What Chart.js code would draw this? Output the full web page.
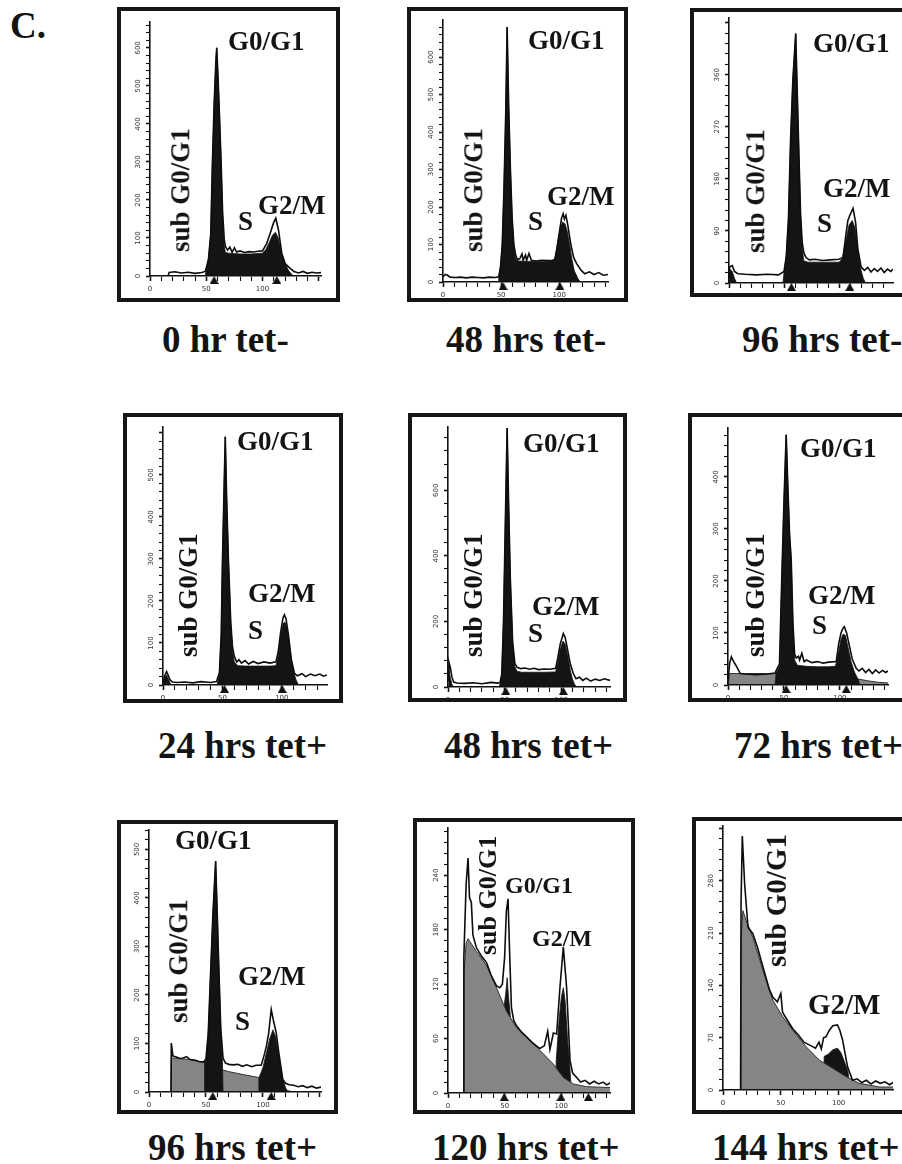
<!DOCTYPE html>
<html>
<head>
<meta charset="utf-8">
<script src="https://cdn.jsdelivr.net/npm/chart.js@4.4.0/dist/chart.umd.min.js"></script>
<style>
html, body { margin: 0; padding: 0; background: #fff; }
body { width: 902px; height: 1164px; position: relative; overflow: hidden; font-family: "Liberation Serif", "Times New Roman", serif; }
.box { position: absolute; border: 4px solid #161616; box-sizing: border-box; background: #fff; }
.box canvas { position: absolute; left: 0; top: 0; }
.lbl, .vert, .cap { position: absolute; font-weight: bold; color: #141414; white-space: nowrap; line-height: 1; }
.vert { left: 0; top: 0; transform-origin: 0 0; }
.cap { font-size: 37px; }
</style>
</head>
<body>
<div class="cap" style="left:10px;top:7px">C.</div>
<script>
// histogram values: [channel, count]
const p1Line = [[16,0],[17,9],[22,11],[28,8],[34,10],[40,7],[46,9],[49,12],[50,20],[52,45],[54,110],[55.5,300],[57,450],[58.5,560],[59.3,600],[60.5,520],[62,400],[63.2,300],[64.5,170],[66,95],[67,78],[69,68],[71,76],[73,62],[75,74],[77,63],[80,66],[84,62],[88,64],[92,63],[96,65],[100,66],[103.8,86],[106.8,112],[109.7,139],[111.8,152],[114.2,121],[117.1,60],[120.1,33],[124.6,20],[128,12],[132,8],[136,12],[140,7],[144,10],[148,8],[152,9]];
const p1Fit = [[49,0],[50,15],[52,45],[54,110],[55.5,300],[57,450],[58.5,560],[59.3,600],[60.5,520],[62,400],[63.2,300],[64.5,160],[66,80],[67,62],[70,60],[80,58],[90,58],[100,60],[103,70],[106,88],[109,108],[111.5,115],[114,100],[117,60],[120,35],[123,15],[126,4],[128,0]];
const p1Marks = [57, 112.7];

const p2Line = [[0,14],[2,20],[4,18],[6,13],[10,12],[15,13],[20,11],[25,13],[30,12],[35,11],[40,13],[45,12],[48,14],[49.5,40],[51,100],[52.5,250],[54,450],[55.2,680],[56.5,470],[58,300],[59.5,170],[61,100],[62.5,72],[64,60],[66,62],[68,75],[69,58],[71,72],[72,58],[74,76],[76,58],[80,56],[85,58],[90,57],[94,58],[96.3,60],[98,90],[100,130],[102,170],[103.4,182],[104.5,168],[105.8,178],[107.5,150],[110,100],[112.5,65],[115,49],[119,31],[122,22],[126,27],[130,20],[134,25],[138,18],[142,20]];
const p2Fit = [[47.5,0],[48,12],[49.5,40],[51,100],[52.5,250],[54,450],[55.2,680],[56.5,470],[58,300],[59.5,170],[61,95],[62.5,62],[65,56],[75,55],[85,55],[95,56],[97,70],[99,110],[101,145],[103,160],[105,155],[107,135],[109,100],[111,60],[113,30],[116,10],[118,0]];
const p2Marks = [51.7, 100.6];

const p3Line = [[0,10],[0.5,28],[3,30],[5,20],[8,16],[15,15],[25,14],[35,15],[45,14],[50,20],[52,45],[54,110],[56,250],[58,350],[60.6,431],[62,330],[63.6,216],[65,120],[66.5,70],[68,52],[70,44],[73,40],[78,41],[85,39],[92,40],[100,41],[103.6,44],[106,80],[108,108],[110,118],[112.7,129],[115,105],[117,60],[120,28],[123,22],[126,27],[129,19],[132,25],[135,20],[138,26],[141,18],[144,24],[147,20],[149,24]];
const p3Fit = [[0,0],[0.5,24],[3,20],[5,8],[7,0],[49,0],[50,18],[52,45],[54,110],[56,250],[58,350],[60.6,431],[62,330],[63.6,216],[65,115],[66.5,60],[68,38],[72,36],[80,36],[90,36],[100,36],[103,42],[106,70],[109,100],[112,108],[114.5,95],[117,55],[120,22],[122,8],[124,0]];
const p3Marks = [56.7, 109.7];

const p4Line = [[0,5],[1.5,22],[3,32],[4.5,22],[6,12],[8,7],[12,6],[18,7],[25,5],[32,8],[40,6],[45,8],[47.5,30],[49,120],[50,290],[51.5,480],[52.4,591],[53.5,450],[55,300],[57,150],[58.5,90],[60,68],[62,55],[64,60],[66,52],[69,58],[72,50],[76,56],[80,51],[85,55],[90,52],[95,55],[97,80],[99,125],[101,160],[102.2,167],[103.5,158],[105.5,120],[108,60],[110.6,28],[113,22],[117,27],[120,20],[124,26],[128,22],[132,26],[135,21],[138,24]];
const p4Fit = [[0,0],[1.5,18],[3,24],[4.5,14],[6,4],[8,0],[45.5,0],[47.5,28],[49,120],[50,290],[51.5,480],[52.4,591],[53.5,450],[55,300],[57,145],[58.5,80],[60,55],[63,46],[70,45],[80,45],[90,45],[95,46],[97,70],[99,115],[101,145],[102.5,150],[104,140],[106,105],[108,60],[110,30],[112,12],[114,0]];
const p4Marks = [51.8, 100.3];

const p5Line = [[0,20],[0.8,76],[2,60],[3.5,30],[5,15],[8,12],[15,11],[22,13],[30,10],[38,14],[44,12],[46,14],[47.5,40],[49,200],[50.5,480],[52.2,790],[53.5,560],[55,330],[57,140],[59,72],[61,60],[64,56],[68,58],[72,54],[76,57],[80,53],[85,55],[90,54],[95,57],[97,90],[99,130],[101.8,163],[103.5,150],[105.5,115],[108,70],[110.6,41],[113,25],[116,30],[119,20],[122,27],[126,18],[130,24],[134,20],[138,25],[143,20]];
const p5Fit = [[0,0],[0.8,50],[2,30],[3.5,8],[5,0],[45,0],[46.5,15],[47.5,40],[49,200],[50.5,480],[52.2,790],[53.5,560],[55,330],[57,135],[59,62],[61,48],[65,45],[75,45],[85,45],[95,46],[97,75],[99,115],[101.5,140],[103.5,130],[106,90],[108,50],[110,22],[112,6],[114,0]];
const p5Marks = [51, 101.8];

const p6Line = [[0,8],[1.5,42],[3,54],[5,45],[7,38],[9,30],[11,22],[15,21],[25,20],[35,21],[42,23],[44,32],[46,40],[48,200],[50,350],[52,481],[53.5,380],[55,290],[56.5,240],[58,120],[59.5,60],[61,52],[63,55],[64,48],[66,61],[68,45],[70,48],[75,43],[80,45],[85,42],[90,44],[96.7,45],[99,80],[101,100],[103,110],[104,112],[106,100],[108.5,75],[111,50],[114.6,32],[117,27],[120,32],[123,24],[126,30],[129,22],[132,29],[135,23],[138,28],[141,24],[143,27]];
const p6Fit = [[42,0],[43,22],[45,32],[46.5,38],[48,200],[50,350],[52,481],[53.5,380],[55,290],[56.5,240],[58,115],[59.5,48],[62,38],[70,36],[80,35],[90,35],[96,36],[99,65],[101,88],[103,98],[105,95],[107,75],[110,45],[113,25],[116,12],[118,0]];
const p6Gray = [[0.5,0],[1,22],[10,22],[30,22],[60,21],[90,20],[105,16],[115,12],[125,8],[135,5],[143,4]];
const p6Marks = [52, 105.7];

const p7Line = [[19.3,0],[19.6,101],[21,74],[24,72],[27,69],[30,70],[33,73],[36,67],[40,66],[44,63],[48,62],[50,68],[52,120],[54,240],[56,360],[58.5,476],[60,360],[61.5,240],[63,130],[65,70],[67,60],[70,57],[74,56],[78,57],[82,53],[86,56],[90,52],[94,55],[98.5,55],[101,75],[103,94],[105,120],[107.3,170],[109,150],[111.7,122],[114,80],[117.5,25],[120,18],[123,15],[127,14],[131,11],[135,13],[139,9],[143,12],[147,8],[151,10]];
const p7Fit = [[48.5,0],[48.8,62],[50,64],[52,120],[54,240],[56,360],[58.5,476],[60,360],[61.5,240],[63,130],[64.5,60],[65,0],[96,0],[96.5,29],[100,50],[103,80],[106,110],[108.8,128],[111,115],[114,75],[117,30],[120,8],[122,0]];
const p7Gray = [[19.3,0],[19.6,70],[26,69],[35.7,67],[45,62],[50.3,60],[59,49],[70,42],[82.5,36],[98.5,29],[104,22],[108.8,15],[117.5,5],[125,1],[151,1]];
const p7Marks = [56, 107.3];

const p8Line = [[13.3,0],[14,150],[16,230],[17.7,259],[19,215],[20.6,210],[22,174],[25.1,160],[30,150],[33.9,144],[38,130],[42.8,118],[45.7,116],[48,120],[50,150],[51.5,200],[53,214],[54.5,150],[56,94],[58,80],[60.5,74],[65,67],[69.3,62],[75,55],[81.1,49],[85,52],[88,68],[90,48],[93,66],[95.9,65],[98.8,116],[101.8,161],[104.7,116],[107.7,36],[110,22],[113.6,17],[117,12],[121,14],[125,10],[129,13],[133,10],[137,12],[140,9],[143,11]];
const p8Fit = [[49,0],[49.5,95],[51,110],[52.2,127],[53.5,105],[55,85],[56,0],[95,0],[95.5,35],[98,80],[100,105],[101.8,116],[103.5,100],[105.5,60],[107.5,30],[109,0]];
const p8Gray = [[13.3,0],[14,130],[16,165],[17.7,170],[25.1,156],[33.9,141],[42.8,116],[51.6,90],[60.5,72],[69.3,61],[81.1,47],[92.9,32],[101.8,17],[110.6,10],[122.4,7],[143,6]];
const p8Marks = [49.6, 99.7, 123.9];

const p9Line = [[15.2,0],[15.6,250],[16.7,340],[18.7,276],[21.6,218],[25.9,209],[30,190],[34.5,165],[40,135],[43.1,124],[47,118],[50,129],[51.5,104],[55,95],[60.3,82],[65,74],[70,64],[75,60],[80,56],[83,64],[85,55],[87,70],[89,71],[92,80],[95,86],[99,87],[101,80],[103.4,67],[107.7,31],[112,13],[116,15],[120,10],[124,13],[128,8],[132,12],[136,9],[140,11],[144,7],[147,10]];
const p9Fit = [[87,0],[87.5,45],[91,48],[95,54],[99,56],[102,50],[105,38],[108,25],[110,0]];
const p9Gray = [[15.2,0],[15.5,200],[17.2,240],[20,227],[25.9,204],[34.5,160],[43.1,120],[51.7,98],[60.3,80],[71.8,58],[83.3,40],[94.8,29],[106.3,18],[117.8,9],[135,4],[147,4]];

// axis ranges and tick steps per panel
const xMax = [152, 142, 149, 138, 143, 143, 151, 143, 147];
const yMax = [668, 699, 458, 614, 793, 494, 540, 292, 353];
const yMajor = [100, 100, 90, 100, 200, 100, 100, 60, 70];
const yMinor = [20, 20, 18, 20, 40, 20, 20, 12, 14];
const yLabelTop = [600, 600, 360, 500, 600, 400, 500, 240, 280];
// debris (gray) drawn over the fitted peaks?
const grayOnTop = [false, false, false, false, false, false, false, true, true];

const captions = ['0 hr tet-', '48 hrs tet-', '96 hrs tet-', '24 hrs tet+', '48 hrs tet+', '72 hrs tet+', '96 hrs tet+', '120 hrs tet+', '144 hrs tet+'];

// layout: box [l,t,r,b], axis [yAxisX, xAxisY, top, right], caption [left, capTop]
const layout = [
  {box: [117, 7, 340, 302], axis: [150, 276, 22, 321], cap: [162, 327]},
  {box: [407, 7, 628, 302], axis: [443, 282, 20, 608], cap: [446, 327]},
  {box: [690, 8, 912, 297], axis: [729, 283, 18, 893], cap: [742, 327]},
  {box: [123, 413, 343, 703], axis: [163, 685, 427, 327], cap: [158, 733]},
  {box: [408, 413, 627, 702], axis: [448, 687, 427, 610], cap: [444, 733]},
  {box: [688, 413, 912, 702], axis: [728, 685, 428, 888], cap: [734, 733]},
  {box: [117, 820, 338, 1114], axis: [149, 1092, 830, 321], cap: [148, 1135]},
  {box: [413, 818, 635, 1114], axis: [448, 1093, 825, 610], cap: [432, 1135]},
  {box: [692, 817, 912, 1114], axis: [723, 1090, 825, 893], cap: [712, 1135]}
];

const series = [
  [p1Line, p1Fit, null, p1Marks], [p2Line, p2Fit, null, p2Marks], [p3Line, p3Fit, null, p3Marks],
  [p4Line, p4Fit, null, p4Marks], [p5Line, p5Fit, null, p5Marks], [p6Line, p6Fit, p6Gray, p6Marks],
  [p7Line, p7Fit, p7Gray, p7Marks], [p8Line, p8Fit, p8Gray, p8Marks], [p9Line, p9Fit, p9Gray, null]
];

// text inside panels: text, font size, ink left, cap top (or bottom for vertical), vertical?
const tags = [
  ['G0/G1', 27, 228, 33], ['G2/M', 27, 258, 197], ['S', 27, 238, 213], ['sub G0/G1', 27, 172, 252, 1],
  ['G0/G1', 27, 528, 32], ['G2/M', 27, 547, 188], ['S', 27, 528, 213], ['sub G0/G1', 27, 465, 252, 1],
  ['G0/G1', 27, 813, 35], ['G2/M', 27, 823, 180], ['S', 27, 817, 215], ['sub G0/G1', 27, 747, 253, 1],
  ['G0/G1', 27, 237, 433], ['G2/M', 27, 248, 585], ['S', 27, 248, 622], ['sub G0/G1', 27, 180, 657, 1],
  ['G0/G1', 27, 523, 435], ['G2/M', 27, 532, 598], ['S', 27, 528, 625], ['sub G0/G1', 27, 465, 657, 1],
  ['G0/G1', 27, 800, 440], ['G2/M', 27, 808, 587], ['S', 27, 812, 617], ['sub G0/G1', 27, 747, 657, 1],
  ['G0/G1', 27, 175, 832], ['G2/M', 27, 238, 968], ['S', 27, 235, 1013], ['sub G0/G1', 27, 170, 1023, 1],
  ['G0/G1', 24, 505, 877], ['G2/M', 24, 532, 930], ['sub G0/G1', 26, 480, 955, 1],
  ['sub G0/G1', 29, 767, 967, 1], ['G2/M', 29, 808, 995]
];

function markImage() {
  const c = document.createElement('canvas');
  c.width = 9; c.height = 18;
  const g = c.getContext('2d');
  g.fillStyle = '#111';
  g.beginPath(); g.moveTo(4.5, 9); g.lineTo(9, 17); g.lineTo(0, 17); g.closePath(); g.fill();
  return c;
}
const mark = markImage();
const pts = a => a.map(([x, y]) => ({x: x, y: y}));

layout.forEach((L, i) => {
  const [bl, bt, br, bb] = L.box;
  const [ax, ay, atop, aright] = L.axis;
  const box = document.createElement('div');
  box.className = 'box';
  box.style.cssText = `left:${bl}px;top:${bt}px;width:${br - bl}px;height:${bb - bt}px`;
  const cv = document.createElement('canvas');
  const cl = bl + 4, ct = bt + 4, cw = br - bl - 8, ch = bb - bt - 8;
  cv.width = cw; cv.height = ch;
  box.appendChild(cv);
  document.body.appendChild(box);

  const wy = ax - cl, hx = ct + ch - ay;
  const [line, fit, gray, marks] = series[i];
  const ds = [{data: pts(line), borderColor: '#0d0d0d', borderWidth: 1.6, pointRadius: 0, fill: false, tension: 0}];
  if (marks) ds.push({data: marks.map(x => ({x: x, y: 0})), showLine: false, pointStyle: mark, pointRadius: 5, clip: false});
  const fitSet = {data: pts(fit), borderWidth: 0.8, borderColor: '#141414', backgroundColor: '#141414', pointRadius: 0, fill: 'origin', tension: 0};
  const graySet = gray ? {data: pts(gray), borderWidth: 1, borderColor: '#333', backgroundColor: '#858585', pointRadius: 0, fill: 'origin', tension: 0} : null;
  if (graySet && grayOnTop[i]) { ds.push(graySet, fitSet); }
  else { ds.push(fitSet); if (graySet) ds.push(graySet); }

  const major = yMajor[i], labelTop = yLabelTop[i];
  new Chart(cv, {
    type: 'line',
    data: {datasets: ds},
    options: {
      responsive: false,
      animation: false,
      events: [],
      layout: {padding: {left: 0, top: atop - ct, right: cl + cw - aright, bottom: 0}},
      plugins: {legend: {display: false}, tooltip: {enabled: false}},
      scales: {
        x: {
          type: 'linear', min: 0, max: xMax[i],
          afterFit: s => { s.height = hx; },
          ticks: {stepSize: 10, autoSkip: false, includeBounds: false, minRotation: 0, maxRotation: 0, padding: 4,
            font: {size: 7, family: 'DejaVu Sans'}, color: '#333',
            callback: v => (v % 50 === 0 && v <= 100 ? String(v) : '')},
          grid: {drawOnChartArea: false, drawTicks: true, tickLength: 5, color: '#111',
            tickWidth: c => (c.tick && c.tick.value % 50 === 0 ? 1.6 : 1.1)},
          border: {display: true, color: '#111', width: 1.6, z: 1}
        },
        y: {
          type: 'linear', min: 0, max: yMax[i],
          afterFit: s => { s.width = wy; },
          ticks: {stepSize: yMinor[i], autoSkip: false, includeBounds: false, minRotation: 90, maxRotation: 90, padding: 1,
            crossAlign: 'center', font: {size: 7, family: 'DejaVu Sans'}, color: '#333',
            callback: v => (v % major === 0 && v <= labelTop ? String(v) : '')},
          grid: {drawOnChartArea: false, drawTicks: true, tickLength: 4, color: '#111',
            tickWidth: c => (c.tick && c.tick.value % major === 0 ? 1.6 : 1.1)},
          border: {display: true, color: '#111', width: 1.6, z: 1}
        }
      }
    }
  });

  const c = document.createElement('div');
  c.className = 'cap';
  c.textContent = captions[i];
  c.style.left = L.cap[0] + 'px';
  c.style.top = (L.cap[1] - 0.1755 * 37) + 'px';
  document.body.appendChild(c);
});

tags.forEach(([text, fs, x, y, vertical]) => {
  const d = document.createElement('div');
  d.textContent = text;
  d.style.fontSize = fs + 'px';
  if (vertical) {
    d.className = 'vert';
    d.style.transform = `translate(${x - 0.1755 * fs}px, ${y}px) rotate(-90deg)`;
  } else {
    d.className = 'lbl';
    d.style.left = x + 'px';
    d.style.top = (y - 0.1755 * fs) + 'px';
  }
  document.body.appendChild(d);
});
</script>
</body>
</html>
